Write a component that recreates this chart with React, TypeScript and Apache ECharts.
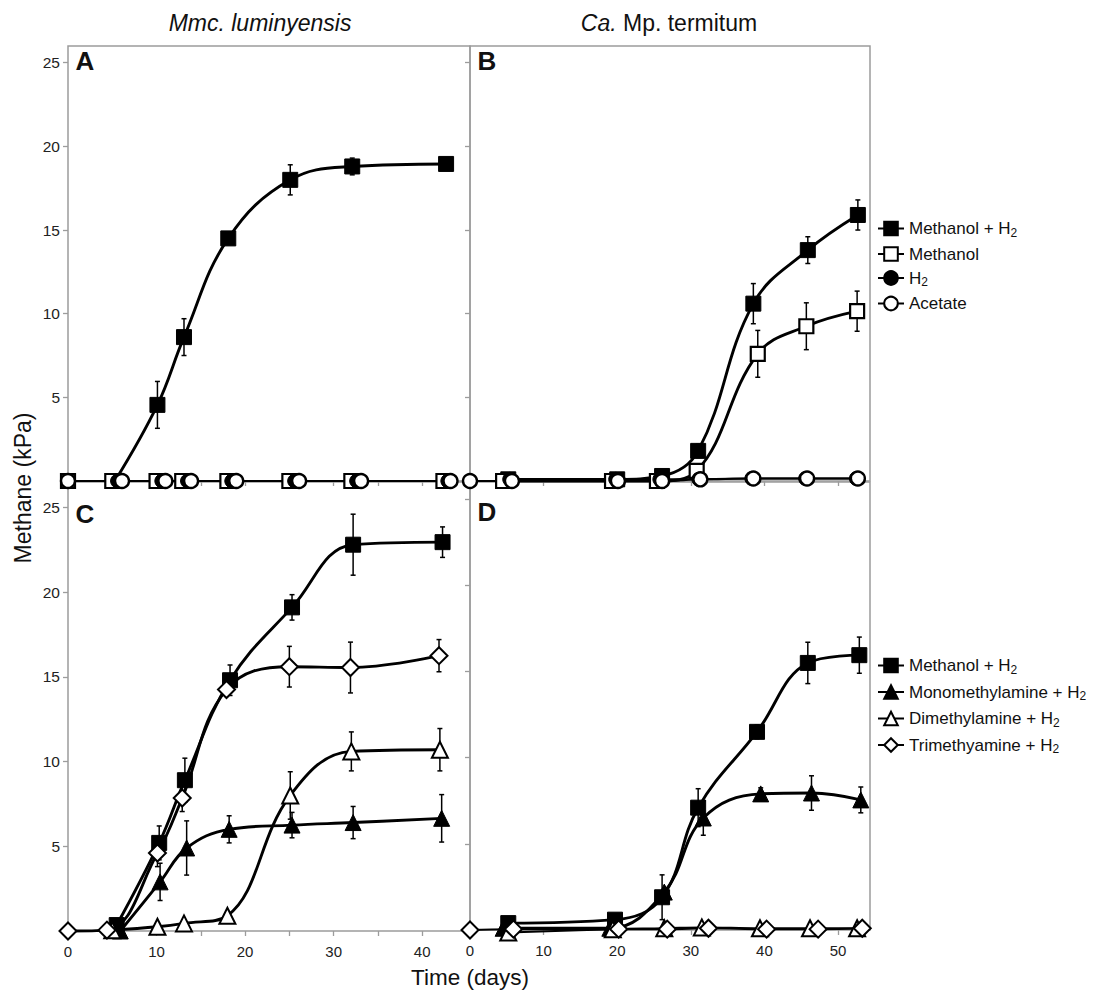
import React, { useEffect, useRef } from "react";
import * as echarts from "echarts";

// ---------------- Names / ticks ----------------
const namesTop = ["Methanol + H2", "Methanol", "H2", "Acetate"];
const namesBottom = ["Methanol + H2", "Monomethylamine + H2", "Dimethylamine + H2", "Trimethyamine + H2"];
const yTickValues = [5, 10, 15, 20, 25];
const xTicksLeft = [0, 5, 10, 15, 20, 25, 30, 35, 40];
const xLabelsLeft = [0, 10, 20, 30, 40];
const xTicksRight = [0, 10, 20, 30, 40, 50];
const xLabelsRight = [0, 10, 20, 30, 40, 50];

// ---------------- Panel A: Mmc. luminyensis ----------------
const aMeohH2Days = [5.3, 10.1, 13.1, 18.1, 25.1, 32.1, 42.7];
const aMeohH2Vals = [0, 4.55, 8.6, 14.5, 18.0, 18.8, 18.95];
const aMeohH2Err = [0, 1.4, 1.1, 0.3, 0.9, 0.5, 0.3];
const aMeohDays = [0, 5.0, 10.0, 12.9, 18.0, 25.0, 32.0, 42.4];
const aMeohVals = [0, 0, 0, 0, 0, 0, 0, 0];
const aH2Days = [0, 5.6, 10.6, 13.5, 18.5, 25.6, 32.6, 42.9];
const aH2Vals = [0, 0, 0, 0, 0, 0, 0, 0];
const aAcetDays = [0, 6.1, 11.0, 13.9, 19.0, 26.1, 33.1, 43.2];
const aAcetVals = [0, 0, 0, 0, 0, 0, 0, 0];

// ---------------- Panel B: Ca. Mp. termitum ----------------
const bMeohH2Days = [5.2, 20.0, 26.1, 31.0, 38.5, 45.9, 52.7];
const bMeohH2Vals = [0.1, 0.1, 0.3, 1.8, 10.6, 13.8, 15.9];
const bMeohH2Err = [0, 0, 0, 0.4, 1.2, 0.8, 0.9];
const bMeohDays = [4.5, 19.3, 25.4, 30.8, 39.1, 45.7, 52.6];
const bMeohVals = [0, 0, 0, 0.6, 7.6, 9.25, 10.15];
const bMeohErr = [0, 0, 0, 0.3, 1.4, 1.4, 1.2];
const bH2Days = [5.4, 19.8, 25.8, 31.1, 38.3, 45.6, 52.5];
const bH2Vals = [0.1, 0.1, 0.1, 0.1, 0.15, 0.15, 0.15];
const bAcetDays = [0, 5.7, 20.1, 26.1, 31.3, 38.5, 45.8, 52.7];
const bAcetVals = [0, 0, 0, 0, 0.1, 0.15, 0.15, 0.15];

// ---------------- Panel C: Mmc. luminyensis, methylated substrates ----------------
const cMeohH2Days = [5.5, 10.3, 13.2, 18.3, 25.3, 32.2, 42.3];
const cMeohH2Vals = [0.35, 5.2, 8.9, 14.8, 19.1, 22.8, 22.95];
const cMeohH2Err = [0, 1.0, 1.3, 0.9, 0.75, 1.8, 0.9];
const cMmaDays = [5.9, 10.4, 13.4, 18.2, 25.3, 32.2, 42.2];
const cMmaVals = [0, 2.9, 4.9, 6.0, 6.25, 6.4, 6.65];
const cMmaErr = [0, 1.1, 1.6, 0.8, 0.75, 0.95, 1.4];
const cDmaDays = [5.0, 10.1, 13.1, 18.0, 25.1, 32.0, 42.0];
const cDmaVals = [0.05, 0.25, 0.45, 0.9, 8.0, 10.6, 10.7];
const cDmaErr = [0, 0, 0, 0, 1.4, 1.15, 1.25];
const cTmaDays = [0, 4.4, 10.1, 12.9, 17.9, 25.0, 31.9, 41.9];
const cTmaVals = [0, 0.05, 4.6, 7.85, 14.25, 15.6, 15.55, 16.25];
const cTmaErr = [0, 0, 0.8, 0.8, 0.4, 1.2, 1.5, 0.95];

// ---------------- Panel D: Ca. Mp. termitum, methylated substrates ----------------
const dMeohH2Days = [5.2, 19.7, 26.1, 31.0, 39.0, 45.9, 52.9];
const dMeohH2Vals = [0.4, 0.6, 1.9, 7.1, 11.5, 15.5, 15.95];
const dMeohH2Err = [0, 0, 1.3, 1.1, 0.4, 1.2, 1.05];
const dMmaDays = [4.5, 19.0, 26.4, 31.7, 39.5, 46.4, 53.1];
const dMmaVals = [0.1, 0.1, 2.2, 6.5, 7.9, 7.95, 7.55];
const dMmaErr = [0, 0, 0, 1.0, 0.35, 1.0, 0.75];
const dDmaDays = [5.2, 19.4, 26.4, 31.5, 39.4, 46.2, 52.6];
const dDmaVals = [-0.15, 0.05, 0.1, 0.15, 0.1, 0.1, 0.1];
const dTmaDays = [0, 5.9, 20.2, 26.8, 32.4, 40.3, 47.3, 53.3];
const dTmaVals = [0, 0.05, 0.05, 0.05, 0.1, 0.05, 0.05, 0.1];

const FONT = "'Liberation Sans', Arial, Helvetica, sans-serif";
const FRAME = "#9c9c9c";

type Marker = "fsq" | "osq" | "fci" | "oci" | "ftri" | "otri" | "odia";
const markers: Record<Marker, { symbol: string; size: number; fill: string; bw: number }> = {
  fsq: { symbol: "rect", size: 15, fill: "#000", bw: 1 },
  osq: { symbol: "rect", size: 14, fill: "#fff", bw: 2.2 },
  fci: { symbol: "circle", size: 14, fill: "#000", bw: 1 },
  oci: { symbol: "circle", size: 14, fill: "#fff", bw: 2.4 },
  ftri: { symbol: "triangle", size: 16, fill: "#000", bw: 1 },
  otri: { symbol: "triangle", size: 16, fill: "#fff", bw: 2 },
  odia: { symbol: "diamond", size: 17, fill: "#fff", bw: 2 },
};

function lineSeries(name: string, idx: number, days: number[], vals: number[], m: Marker, width = 2.9) {
  const mk = markers[m];
  return {
    type: "line",
    name,
    xAxisIndex: idx,
    yAxisIndex: idx,
    data: days.map((d, i) => [d, vals[i]]),
    smooth: 0.4,
    symbol: mk.symbol,
    symbolSize: mk.size,
    showAllSymbol: true,
    clip: false,
    lineStyle: { color: "#000", width },
    itemStyle: { color: mk.fill, borderColor: "#000", borderWidth: mk.bw },
    emphasis: { disabled: true },
    z: 3,
  };
}

function errSeries(idx: number, days: number[], vals: number[], errs: number[]) {
  return {
    type: "custom",
    xAxisIndex: idx,
    yAxisIndex: idx,
    clip: false,
    silent: true,
    z: 1,
    dimensions: ["x", "y", "e"],
    encode: { x: 0, y: 1 },
    data: days.map((d, i) => [d, vals[i], errs[i]]).filter((r) => r[2] > 0),
    renderItem: (_params: any, api: any) => {
      const x = api.value(0);
      const y = api.value(1);
      const e = api.value(2);
      const p1 = api.coord([x, y + e]);
      const p2 = api.coord([x, y - e]);
      const w = 2.5;
      const st = { stroke: "#000", lineWidth: 1.5 };
      return {
        type: "group",
        children: [
          { type: "line", shape: { x1: p1[0], y1: p1[1], x2: p2[0], y2: p2[1] }, style: st },
          { type: "line", shape: { x1: p1[0] - w, y1: p1[1], x2: p1[0] + w, y2: p1[1] }, style: st },
          { type: "line", shape: { x1: p2[0] - w, y1: p2[1], x2: p2[0] + w, y2: p2[1] }, style: st },
        ],
      };
    },
  };
}

function xAxis(gridIndex: number, max: number, ticks: number[], labels: number[], showLabels: boolean) {
  return {
    type: "value",
    gridIndex,
    min: 0,
    max,
    axisLine: { show: false },
    splitLine: { show: false },
    axisTick: { show: true, inside: false, length: 5, customValues: ticks, lineStyle: { color: FRAME, width: 1.3 } },
    axisLabel: {
      show: showLabels,
      customValues: labels,
      fontSize: 15,
      fontFamily: FONT,
      color: "#222",
      margin: 13,
    },
  };
}

function yAxis(gridIndex: number, max: number, showLabels: boolean) {
  return {
    type: "value",
    gridIndex,
    min: 0,
    max,
    axisLine: { show: false },
    splitLine: { show: false },
    axisTick: { show: true, inside: false, length: 5, customValues: yTickValues, lineStyle: { color: FRAME, width: 1.3 } },
    axisLabel: {
      show: showLabels,
      customValues: yTickValues,
      fontSize: 15.5,
      fontFamily: FONT,
      color: "#222",
      margin: 8,
    },
  };
}

function legendFormatter(name: string) {
  const m = name.match(/^(.*)H2$/);
  if (m) return `{n|${m[1]}H}{s|2}`;
  return `{n|${name}}`;
}

const legendRich = {
  n: { fontSize: 17, lineHeight: 20, fontFamily: FONT, color: "#111", verticalAlign: "middle" },
  s: { fontSize: 12, lineHeight: 11, fontFamily: FONT, color: "#111", verticalAlign: "bottom" },
};

export default function App() {
  const ref = useRef<HTMLDivElement>(null);

  useEffect(() => {
    if (!ref.current) return;
    const chart = echarts.init(ref.current, undefined, { renderer: "svg" });

    const grids = [
      { left: 68, top: 46, width: 402, height: 435 },
      { left: 470, top: 46, width: 400, height: 435 },
      { left: 68, top: 482, width: 402, height: 449 },
      { left: 470, top: 482, width: 400, height: 448 },
    ].map((g) => ({ ...g, show: true, borderColor: FRAME, borderWidth: 1.5, backgroundColor: "transparent" }));

    const option: any = {
      animation: false,
      backgroundColor: "#fff",
      grid: grids,
      xAxis: [
        xAxis(0, 45.4, xTicksLeft, xLabelsLeft, false),
        xAxis(1, 54.35, xTicksRight, xLabelsRight, false),
        xAxis(2, 45.4, xTicksLeft, xLabelsLeft, true),
        xAxis(3, 54.35, xTicksRight, xLabelsRight, true),
      ],
      yAxis: [yAxis(0, 26, true), yAxis(1, 26, false), yAxis(2, 26.5, true), yAxis(3, 26, false)],
      legend: [
        {
          orient: "vertical",
          left: 872,
          top: 215,
          itemWidth: 26,
          itemHeight: 17,
          itemGap: 7,
          selectedMode: false,
          data: namesTop,
          formatter: legendFormatter,
          textStyle: { fontSize: 17, fontFamily: FONT, color: "#111", rich: legendRich },
        },
        {
          orient: "vertical",
          left: 872,
          top: 652,
          itemWidth: 26,
          itemHeight: 17,
          itemGap: 8,
          selectedMode: false,
          data: namesBottom,
          formatter: legendFormatter,
          textStyle: { fontSize: 17, fontFamily: FONT, color: "#111", rich: legendRich },
        },
      ],
      series: [
        // Panel A
        errSeries(0, aMeohH2Days, aMeohH2Vals, aMeohH2Err),
        lineSeries(namesTop[0], 0, aMeohH2Days, aMeohH2Vals, "fsq"),
        lineSeries(namesTop[1], 0, aMeohDays, aMeohVals, "osq", 2),
        lineSeries(namesTop[2], 0, aH2Days, aH2Vals, "fci", 2),
        lineSeries(namesTop[3], 0, aAcetDays, aAcetVals, "oci", 2),
        // Panel B
        errSeries(1, bMeohH2Days, bMeohH2Vals, bMeohH2Err),
        errSeries(1, bMeohDays, bMeohVals, bMeohErr),
        lineSeries(namesTop[0], 1, bMeohH2Days, bMeohH2Vals, "fsq"),
        lineSeries(namesTop[1], 1, bMeohDays, bMeohVals, "osq"),
        lineSeries(namesTop[2], 1, bH2Days, bH2Vals, "fci", 2),
        lineSeries(namesTop[3], 1, bAcetDays, bAcetVals, "oci", 2),
        // Panel C
        errSeries(2, cMeohH2Days, cMeohH2Vals, cMeohH2Err),
        errSeries(2, cMmaDays, cMmaVals, cMmaErr),
        errSeries(2, cDmaDays, cDmaVals, cDmaErr),
        errSeries(2, cTmaDays, cTmaVals, cTmaErr),
        lineSeries(namesBottom[0], 2, cMeohH2Days, cMeohH2Vals, "fsq"),
        lineSeries(namesBottom[1], 2, cMmaDays, cMmaVals, "ftri"),
        lineSeries(namesBottom[2], 2, cDmaDays, cDmaVals, "otri"),
        lineSeries(namesBottom[3], 2, cTmaDays, cTmaVals, "odia"),
        // Panel D
        errSeries(3, dMeohH2Days, dMeohH2Vals, dMeohH2Err),
        errSeries(3, dMmaDays, dMmaVals, dMmaErr),
        lineSeries(namesBottom[0], 3, dMeohH2Days, dMeohH2Vals, "fsq"),
        lineSeries(namesBottom[1], 3, dMmaDays, dMmaVals, "ftri"),
        lineSeries(namesBottom[2], 3, dDmaDays, dDmaVals, "otri", 2),
        lineSeries(namesBottom[3], 3, dTmaDays, dTmaVals, "odia", 2),
      ],
      graphic: [
        {
          type: "text",
          x: 260,
          y: 23,
          style: { text: "Mmc. luminyensis", font: `italic 23px ${FONT}`, fill: "#111", align: "center", verticalAlign: "middle" },
        },
        {
          type: "text",
          x: 669,
          y: 23,
          style: {
            text: "{i|Ca.}{n| Mp. termitum}",
            rich: {
              i: { fontStyle: "italic", fontSize: 23, fontFamily: FONT, fill: "#111" },
              n: { fontSize: 23, fontFamily: FONT, fill: "#111" },
            },
            fontSize: 23,
            fontFamily: FONT,
            align: "center",
            verticalAlign: "middle",
          },
        },
        { type: "text", x: 85, y: 61, style: { text: "A", font: `bold 26px ${FONT}`, fill: "#111", align: "center", verticalAlign: "middle" } },
        { type: "text", x: 487, y: 61, style: { text: "B", font: `bold 26px ${FONT}`, fill: "#111", align: "center", verticalAlign: "middle" } },
        { type: "text", x: 85, y: 514, style: { text: "C", font: `bold 26px ${FONT}`, fill: "#111", align: "center", verticalAlign: "middle" } },
        { type: "text", x: 487, y: 512, style: { text: "D", font: `bold 26px ${FONT}`, fill: "#111", align: "center", verticalAlign: "middle" } },
        {
          type: "text",
          x: 23,
          y: 488,
          rotation: Math.PI / 2,
          style: { text: "Methane (kPa)", font: `23px ${FONT}`, fill: "#111", align: "center", verticalAlign: "middle" },
        },
        {
          type: "text",
          x: 470,
          y: 977,
          style: { text: "Time (days)", font: `22.5px ${FONT}`, fill: "#111", align: "center", verticalAlign: "middle" },
        },
      ],
    };

    chart.setOption(option);
    return () => chart.dispose();
  }, []);

  return <div ref={ref} style={{ position: "fixed", left: 0, top: 0, width: 1102, height: 990, background: "#fff" }} />;
}
